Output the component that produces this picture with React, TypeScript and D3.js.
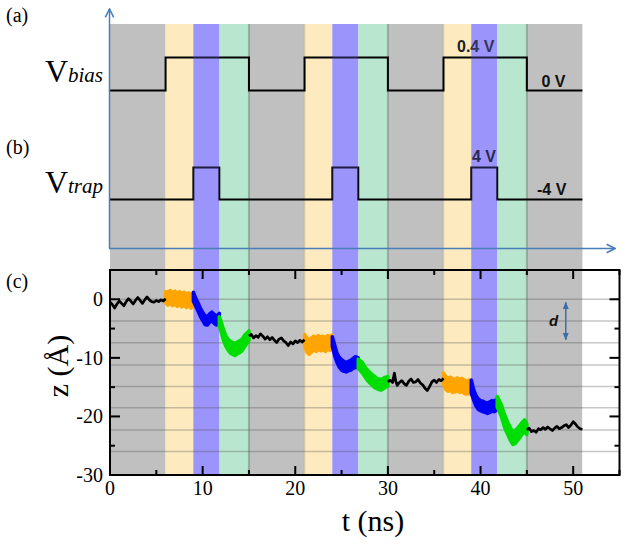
import React from "react";
import * as d3 from "d3";

// ---- data ----
// shaded phases: [start ns, end ns, phase]
const bandStarts = [0, 6, 9, 11.8, 15, 21, 24, 26.8, 30, 36, 39, 41.8, 45];
const bandEnds = [6, 9, 11.8, 15, 21, 24, 26.8, 30, 36, 39, 41.8, 45, 51];
const bandPhases = ["rest", "load", "trap", "release", "rest", "load", "trap", "release", "rest", "load", "trap", "release", "rest"];

// V_bias step signal (V)
const vbiasT = [0, 6, 15, 21, 30, 36, 45, 51];
const vbiasV = [0, 0.4, 0, 0.4, 0, 0.4, 0, 0];
// V_trap step signal (V)
const vtrapT = [0, 9, 11.8, 24, 26.8, 39, 41.8, 51];
const vtrapV = [-4, 4, -4, 4, -4, 4, -4, -4];

// z grid levels (Å)
const gridLevels = [0, -3.7, -7.4, -11.2, -14.9, -18.5, -22.3, -26.0];
const xTicks = [0, 10, 20, 30, 40, 50];
const xMinorTicks = [5, 15, 25, 35, 45, 55];
const yTicks = [0, -10, -20, -30];
const yMinorTicks = [-5, -15, -25];

// black trace segments [t, z]
const black1 = [[0, -0.5], [0.25, -0.9], [0.5, -1.5], [0.75, -0.8], [1, -0.3], [1.25, -0.7], [1.5, -1.1], [1.75, -0.4], [2, 0.1], [2.25, -0.3], [2.5, -0.8], [2.75, -0.2], [3, 0.3], [3.25, -0.2], [3.5, -0.7], [3.75, -0.1], [4, 0.4], [4.25, -0.1], [4.5, -0.4], [4.75, -0.5], [5, -0.2], [5.25, -0.4], [5.5, -0.1], [5.75, -0.3], [6, 0.1]];
const black2 = [[15, -6.3], [15.25, -6.0], [15.5, -6.6], [15.75, -6.2], [16, -6.5], [16.25, -5.9], [16.5, -6.3], [16.75, -6.8], [17, -6.4], [17.25, -6.9], [17.5, -6.5], [17.75, -7.0], [18, -7.4], [18.25, -6.8], [18.5, -6.6], [18.75, -7.1], [19, -7.4], [19.25, -7.9], [19.5, -7.3], [19.75, -7.6], [20, -7.1], [20.25, -7.4], [20.5, -7.0], [20.75, -7.3], [21, -6.9]];
const black3 = [[30, -14.1], [30.25, -13.8], [30.5, -14.2], [30.7, -12.6], [30.85, -14.0], [31, -14.7], [31.25, -14.2], [31.5, -13.9], [31.75, -14.4], [32, -14.7], [32.25, -14.0], [32.5, -13.6], [32.75, -14.2], [33, -14.1], [33.25, -13.7], [33.5, -14.3], [33.75, -14.6], [34, -15.2], [34.25, -15.6], [34.5, -14.9], [34.75, -14.1], [35, -13.8], [35.25, -14.2], [35.5, -13.7], [35.75, -13.9], [36, -13.5]];
const black4 = [[45, -22.3], [45.25, -22.0], [45.5, -22.6], [45.75, -22.4], [46, -22.7], [46.25, -22.1], [46.5, -22.3], [46.75, -21.9], [47, -22.2], [47.25, -21.8], [47.5, -22.1], [47.75, -22.4], [48, -22.0], [48.25, -21.7], [48.5, -22.1], [48.75, -21.9], [49, -21.6], [49.25, -21.4], [49.5, -21.9], [49.75, -21.5], [50, -20.9], [50.25, -21.3], [50.5, -21.8], [50.75, -22.1], [51, -22.2]];

// fluctuation envelopes of coloured segments [t, zLow, zHigh]
const orange1 = [[6, -0.6, 1.3], [6.25, -1.0, 1.2], [6.5, -0.7, 1.5], [6.75, -1.1, 1.1], [7, -0.8, 1.4], [7.25, -1.2, 1.0], [7.5, -0.9, 1.3], [7.75, -1.3, 1.0], [8, -1.0, 1.2], [8.25, -1.4, 0.9], [8.5, -1.1, 1.1], [8.75, -1.5, 0.8], [9, -1.2, 1.0]];
const blue1 = [[9, -0.3, 1.2], [9.25, -1.2, 0.2], [9.5, -2.0, -0.6], [9.75, -2.9, -1.5], [10, -3.6, -2.2], [10.25, -4.3, -2.8], [10.5, -4.4, -3.0], [10.75, -3.9, -2.5], [11, -3.7, -2.2], [11.25, -4.1, -2.6], [11.5, -4.4, -2.9], [11.8, -4.0, -2.4]];
const green1 = [[11.8, -4.6, -3.0], [12, -5.6, -3.8], [12.25, -7.0, -5.2], [12.5, -8.0, -6.2], [12.75, -8.7, -6.8], [13, -9.2, -7.2], [13.25, -9.4, -7.4], [13.5, -9.6, -7.5], [13.75, -9.3, -7.3], [14, -9.1, -7.1], [14.25, -8.8, -6.8], [14.5, -8.2, -6.2], [14.75, -7.6, -5.8], [15, -7.0, -5.4]];
const orange2 = [[21, -8.0, -6.0], [21.25, -9.0, -6.6], [21.5, -9.4, -6.9], [21.75, -9.0, -6.6], [22, -8.6, -6.3], [22.25, -8.9, -6.6], [22.5, -8.5, -6.2], [22.75, -8.8, -6.5], [23, -8.6, -6.3], [23.25, -8.9, -6.6], [23.5, -8.5, -6.2], [23.75, -8.7, -6.4], [24, -8.3, -6.1]];
const blue2 = [[24, -8.0, -6.4], [24.25, -9.6, -7.8], [24.5, -10.8, -9.2], [24.75, -11.6, -9.9], [25, -12.1, -10.3], [25.25, -12.3, -10.6], [25.5, -12.4, -10.8], [25.75, -12.2, -10.6], [26, -12.1, -10.4], [26.25, -11.8, -10.1], [26.5, -11.6, -9.8], [26.8, -11.7, -10.0]];
const green2 = [[26.8, -11.8, -10.2], [27.25, -12.6, -10.8], [27.5, -13.2, -11.5], [27.75, -13.8, -12.0], [28, -14.2, -12.4], [28.25, -14.6, -12.8], [28.5, -15.0, -13.1], [28.75, -15.2, -13.4], [29, -15.4, -13.6], [29.25, -15.5, -13.7], [29.5, -15.3, -13.5], [29.75, -15.0, -13.3], [30, -14.8, -13.2]];
const orange3 = [[36, -14.6, -12.6], [36.25, -15.4, -13.2], [36.5, -15.7, -13.5], [36.75, -15.5, -13.3], [37, -15.9, -13.6], [37.25, -15.8, -13.7], [37.5, -15.6, -13.4], [37.75, -15.9, -13.7], [38, -15.7, -13.5], [38.25, -16.1, -13.8], [38.5, -16.2, -14.0], [38.75, -16.0, -13.8], [39, -16.3, -14.1]];
const blue3 = [[39, -16.0, -13.8], [39.25, -17.2, -15.4], [39.5, -18.2, -16.4], [39.75, -18.8, -17.0], [40, -19.0, -17.3], [40.25, -19.2, -17.4], [40.5, -19.3, -17.6], [40.75, -19.5, -17.7], [41, -19.3, -17.5], [41.25, -19.1, -17.3], [41.5, -19.2, -17.4], [41.8, -18.8, -17.0]];
const green3 = [[41.8, -18.4, -16.6], [42.25, -20.0, -18.0], [42.5, -21.4, -19.3], [42.75, -22.5, -20.3], [43, -23.3, -21.2], [43.25, -24.2, -22.0], [43.5, -24.8, -22.6], [43.75, -24.6, -22.4], [44, -24.1, -22.0], [44.25, -23.6, -21.5], [44.5, -23.0, -21.0], [44.75, -22.6, -20.6], [45, -23.1, -21.3]];

const dArrowT = 49.2;
const dArrowZ = [0, -7.4];

// ---- styling ----
const bandColors: Record<string, string> = {
  rest: "#c0c0c0",
  load: "#fdebbf",
  trap: "#a7a0f8",
  release: "#b9e6cf",
};
const traceColors: Record<string, string> = {
  load: "#ffa400",
  trap: "#0000f5",
  release: "#00dd00",
};
const serif = "Liberation Serif";
const sans = "Liberation Sans";
const axisBlue = "#4a7ebb";

export default function App() {
  const W = 629, H = 545;
  const x = d3.scaleLinear().domain([0, 55]).range([110, 619.5]);
  const y = d3.scaleLinear().domain([-30, 5]).range([475, 270]);
  const yBias = d3.scaleLinear().domain([0, 0.4]).range([90.5, 57.5]);
  const yTrap = d3.scaleLinear().domain([-4, 4]).range([199.5, 167.5]);
  const bandTop = 24;
  const bandBottom = y(-30);

  const bands = bandStarts.map((s, i) => ({ s, e: bandEnds[i], p: bandPhases[i] }));

  const biasLine = d3.line<number>().x((_, i) => x(vbiasT[i])).y((v) => yBias(v)).curve(d3.curveStepAfter);
  const trapLine = d3.line<number>().x((_, i) => x(vtrapT[i])).y((v) => yTrap(v)).curve(d3.curveStepAfter);

  const traceLine = d3.line<number[]>().x((d) => x(d[0])).y((d) => y(d[1]));
  const traceArea = d3.area<number[]>().x((d) => x(d[0])).y0((d) => y(d[1])).y1((d) => y(d[2]));

  const blackSegs = [black1, black2, black3, black4];
  const colouredSegs = [
    { d: orange1, p: "load" }, { d: blue1, p: "trap" }, { d: green1, p: "release" },
    { d: orange2, p: "load" }, { d: blue2, p: "trap" }, { d: green2, p: "release" },
    { d: orange3, p: "load" }, { d: blue3, p: "trap" }, { d: green3, p: "release" },
  ];

  const x0 = x.range()[0], x1 = x.range()[1];
  const yTop = y(5), yBot = y(-30);

  return (
    <svg width={W} height={H} style={{ position: "absolute", left: 0, top: 0, background: "#fff" }}>
      {/* bands */}
      {bands.map((b, i) => (
        <rect key={"b" + i} x={x(b.s)} y={bandTop} width={x(b.e) - x(b.s)} height={bandBottom - bandTop} fill={bandColors[b.p]} />
      ))}
      {bands.filter((b) => b.p === "release").map((b, i) => (
        <line key={"bl" + i} x1={x(b.e)} x2={x(b.e)} y1={bandTop} y2={bandBottom} stroke="rgba(90,120,100,0.45)" strokeWidth={2} />
      ))}
      {bands.filter((b) => b.p === "load" && b.s > 10).map((b, i) => (
        <line key={"ly" + i} x1={x(b.s)} x2={x(b.s)} y1={bandTop} y2={bandBottom} stroke="rgba(170,150,90,0.35)" strokeWidth={1.5} />
      ))}

      {/* top panels: voltage signals */}
      <path d={biasLine(vbiasV) || ""} fill="none" stroke="#000" strokeWidth={2} />
      <path d={trapLine(vtrapV) || ""} fill="none" stroke="#000" strokeWidth={2} />
      <text x={457} y={52} style={{ fontFamily: sans }} fontWeight="bold" fontSize={16} fill="#222">0.4 V</text>
      <text x={541.5} y={87} style={{ fontFamily: sans }} fontWeight="bold" fontSize={16} fill="#111">0 V</text>
      <text x={472} y={162} style={{ fontFamily: sans }} fontWeight="bold" fontSize={16} fill="#111">4 V</text>
      <text x={537} y={194.5} style={{ fontFamily: sans }} fontWeight="bold" fontSize={16} fill="#111">-4 V</text>

      {/* blue overlay on trap bands */}
      {bands.filter((b) => b.p === "trap").map((b, i) => (
        <rect key={"o" + i} x={x(b.s)} y={bandTop} width={x(b.e) - x(b.s)} height={bandBottom - bandTop} fill="rgba(120,110,255,0.25)" />
      ))}

      <text x={103} y={81.5} style={{ fontFamily: serif }} textAnchor="end">
        <tspan fontSize={32}>V</tspan>
        <tspan fontSize={21} fontStyle="italic">bias</tspan>
      </text>
      <text x={103} y={192.5} style={{ fontFamily: serif }} textAnchor="end">
        <tspan fontSize={32}>V</tspan>
        <tspan fontSize={21} fontStyle="italic">trap</tspan>
      </text>
      <text x={6} y={22} style={{ fontFamily: serif }} fontSize={20}>(a)</text>
      <text x={6} y={154} style={{ fontFamily: serif }} fontSize={20}>(b)</text>
      <text x={6} y={288} style={{ fontFamily: serif }} fontSize={20}>(c)</text>

      {/* blue schematic axes */}
      <defs>
        <marker id="arr" viewBox="0 0 10 10" refX={9} refY={5} markerWidth={7} markerHeight={7} orient="auto">
          <path d="M1,1 L9,5 L1,9" fill="none" stroke={axisBlue} strokeWidth={1.5} />
        </marker>
        <marker id="darr" viewBox="0 0 10 10" refX={9} refY={5} markerWidth={5} markerHeight={5} orient="auto-start-reverse">
          <path d="M0,1 L10,5 L0,9 Z" fill="#3b6ea5" />
        </marker>
      </defs>
      <line x1={109.5} y1={248.5} x2={109.5} y2={9} stroke={axisBlue} strokeWidth={1.5} markerEnd="url(#arr)" />
      <line x1={109} y1={248.5} x2={615} y2={248.5} stroke={axisBlue} strokeWidth={1.5} markerEnd="url(#arr)" />

      {/* bottom panel */}
      <rect x={x(51)} y={yTop} width={x1 - x(51)} height={yBot - yTop} fill="#fff" />
      {gridLevels.map((g, i) => (
        <line key={"g" + i} x1={x0} x2={x1} y1={y(g)} y2={y(g)} stroke="rgba(80,80,80,0.32)" strokeWidth={1.5} />
      ))}
      {colouredSegs.map((s, i) => (
        <path key={"c" + i} d={traceArea(s.d) || ""} fill={traceColors[s.p]} stroke={traceColors[s.p]} strokeWidth={3.5} strokeLinejoin="round" />
      ))}
      {blackSegs.map((s, i) => (
        <path key={"k" + i} d={traceLine(s) || ""} fill="none" stroke="#000" strokeWidth={2.7} strokeLinejoin="round" />
      ))}

      {/* d marker */}
      <line x1={x(dArrowT)} x2={x(dArrowT)} y1={y(dArrowZ[0]) + 3} y2={y(dArrowZ[1]) - 3} stroke="#3b6ea5" strokeWidth={1.5} markerStart="url(#darr)" markerEnd="url(#darr)" />
      <text x={549} y={326} style={{ fontFamily: sans }} fontStyle="italic" fontWeight="bold" fontSize={15} fill="#111">d</text>

      {/* frame */}
      <rect x={x0} y={yTop} width={x1 - x0} height={yBot - yTop} fill="none" stroke="#000" strokeWidth={2} />
      {xTicks.map((t) => (
        <g key={"xt" + t}>
          <line x1={x(t)} x2={x(t)} y1={yBot} y2={yBot - 9} stroke="#000" strokeWidth={2} />
          <line x1={x(t)} x2={x(t)} y1={yTop} y2={yTop + 9} stroke="#000" strokeWidth={2} />
          <text x={x(t)} y={495} style={{ fontFamily: serif }} fontSize={20} textAnchor="middle">{t}</text>
        </g>
      ))}
      {xMinorTicks.map((t) => (
        <g key={"xm" + t}>
          <line x1={x(t)} x2={x(t)} y1={yBot} y2={yBot - 5} stroke="#000" strokeWidth={2} />
          <line x1={x(t)} x2={x(t)} y1={yTop} y2={yTop + 5} stroke="#000" strokeWidth={2} />
        </g>
      ))}
      {yTicks.map((v) => (
        <g key={"yt" + v}>
          <line x1={x0} x2={x0 + 10} y1={y(v)} y2={y(v)} stroke="#000" strokeWidth={2} />
          <line x1={x1} x2={x1 - 10} y1={y(v)} y2={y(v)} stroke="#000" strokeWidth={2} />
          <text x={103} y={y(v) + 7} style={{ fontFamily: serif }} fontSize={20} textAnchor="end">{v}</text>
        </g>
      ))}
      {yMinorTicks.map((v) => (
        <g key={"ym" + v}>
          <line x1={x0} x2={x0 + 5} y1={y(v)} y2={y(v)} stroke="#000" strokeWidth={2} />
          <line x1={x1} x2={x1 - 5} y1={y(v)} y2={y(v)} stroke="#000" strokeWidth={2} />
        </g>
      ))}
      <text x={373} y={531} style={{ fontFamily: serif }} fontSize={30} textAnchor="middle">t (ns)</text>
      <text transform="translate(68,366) rotate(-90)" style={{ fontFamily: serif }} fontSize={30} textAnchor="middle">z (Å)</text>
    </svg>
  );
}
